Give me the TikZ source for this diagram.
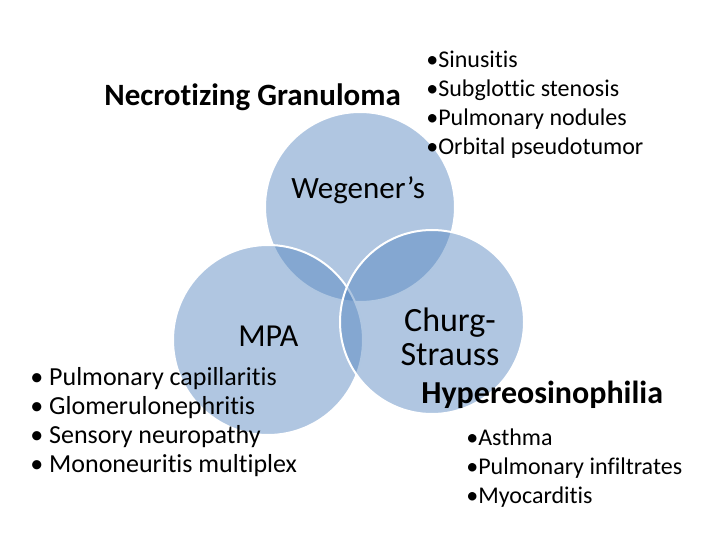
\documentclass[tikz,border=0pt]{standalone}
\usepackage{fontspec}
\setmainfont{Carlito}[Ligatures={NoCommon}]
\tikzset{every picture/.style={line width=0.75pt}}
\tikzset{
  venn/.style={fill={rgb, 255:red, 79; green, 129; blue, 189 }, fill opacity=0.45, draw=white, line width=2pt},
  lbl/.style={align=left, anchor=west, inner sep=0pt}
}
\begin{document}
\begin{tikzpicture}[x=1pt,y=1pt,yscale=-1,xscale=1]
\useasboundingbox (0,0) rectangle (720,540);

%Circle: Wegener [id:top]
\draw [venn] (360,207) circle (95) ;
%Circle: MPA [id:left]
\draw [venn] (268,340) circle (95) ;
%Circle: Churg-Strauss [id:right]
\draw [venn] (432,322) circle (92) ;

% Text Node
\node (necro) [lbl, font=\bfseries\fontsize{31}{34}\selectfont] at (104,97) {Necrotizing Granuloma};
% Text Node
\node (wegsym) [lbl, font=\fontsize{24}{29}\selectfont] at (426,105) {•Sinusitis\\•Subglottic stenosis\\•Pulmonary nodules\\•Orbital pseudotumor};
% Text Node
\node (wegener) [lbl, font=\fontsize{31}{34}\selectfont] at (291,190) {Wegener’s};
% Text Node
\node (mpa) [lbl, font=\fontsize{32}{34}\selectfont] at (238,336) {MPA};
% Text Node
\node (mpasym) [lbl, font=\fontsize{26}{29}\selectfont] at (30,422) {• Pulmonary capillaritis\\• Glomerulonephritis\\• Sensory neuropathy\\• Mononeuritis multiplex};
% Text Node
\node (churg) [align=center, inner sep=0pt, font=\fontsize{34}{34}\selectfont] at (450,337) {Churg-\\Strauss};
% Text Node
\node (hyper) [lbl, font=\bfseries\fontsize{32}{34}\selectfont] at (421,395) {Hypereosinophilia};
% Text Node
\node (cssym) [lbl, font=\fontsize{24}{29}\selectfont] at (466,468) {•Asthma\\•Pulmonary infiltrates\\•Myocarditis};

\end{tikzpicture}
\end{document}
